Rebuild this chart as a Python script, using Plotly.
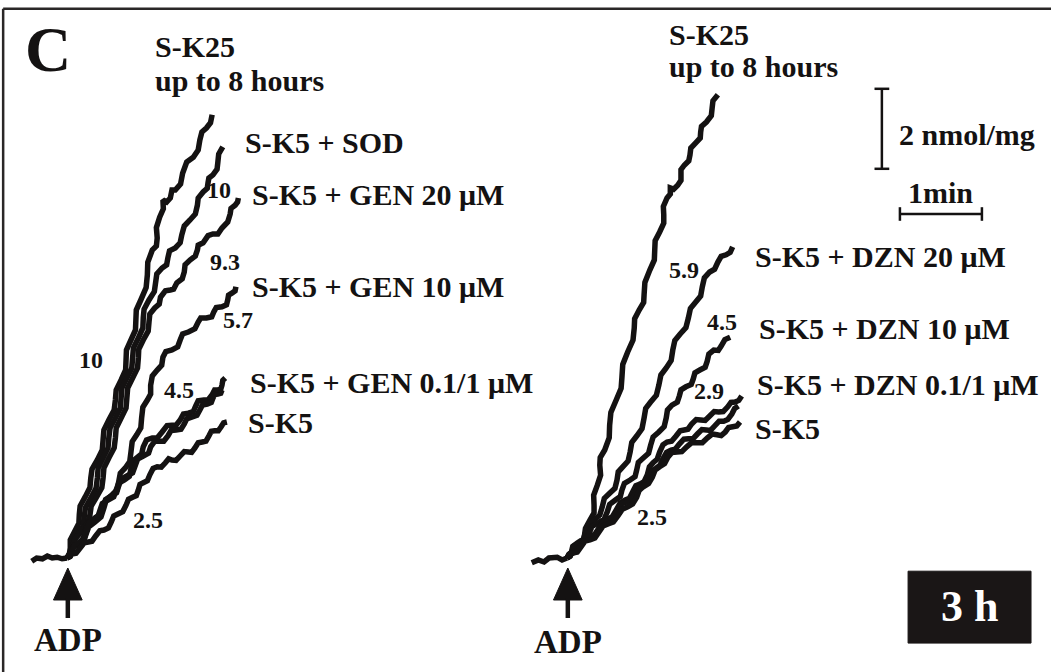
import plotly.graph_objects as go

# ---------------- data (time in min after ADP, uptake in nmol/mg) ----------------
# Left panel (genistein series)
L_base_t = [-0.43, -0.37, -0.30, -0.24, -0.18, -0.12, -0.06, 0]
L_base_v = [-0.08, 0, -0.02, 0.05, 0, 0.02, -0.02, 0]

L_SK25_t = [0, .03, .04, .04, .09, .145, .15, .16, .22, .28, .29, .305, .37, .43, .44, .45, .51, .575, .59, .60,
            .66, .715, .72, .725, .78, .835, .84, .845, .90, .965, .98, .985, 1.04, 1.09, 1.10, 1.09, 1.13, 1.175,
            1.17, 1.215, 1.26, 1.28, 1.32, 1.385, 1.41, 1.46, 1.54, 1.60, 1.62, 1.645, 1.70, 1.75, 1.77]
L_SK25_v = [0, .12, .25, .45, .65, .87, 1.08, 1.3, 1.52, 1.76, 2.0, 2.22, 2.45, 2.7, 2.95, 3.2, 3.45, 3.7, 3.95, 4.2,
            4.45, 4.7, 4.95, 5.2, 5.45, 5.7, 5.95, 6.2, 6.45, 6.76, 7.08, 7.39, 7.7, 7.8, 8.0, 8.26, 8.52, 8.73,
            8.95, 8.9, 9.0, 9.2, 9.2, 9.35, 9.62, 9.9, 10.02, 10.2, 10.45, 10.65, 10.75, 10.88, 11.08]

L_SOD_t = [0, .04, .05, .065, .13, .195, .21, .225, .29, .355, .37, .38, .44, .50, .51, .525, .59, .65, .66, .67,
           .73, .79, .80, .81, .87, .925, .93, .94, 1.0, 1.065, 1.08, 1.095, 1.16, 1.215, 1.23, 1.25, 1.32, 1.38,
           1.40, 1.43, 1.50, 1.565, 1.59, 1.60, 1.66, 1.71, 1.72, 1.73, 1.78, 1.83, 1.84, 1.85, 1.90]
L_SOD_v = [0, .1, .2, .39, .58, .8, 1.02, 1.26, 1.5, 1.75, 2.0, 2.25, 2.5, 2.75, 3.0, 3.25, 3.5, 3.75, 4.0, 4.25,
           4.5, 4.75, 5.0, 5.25, 5.5, 5.75, 6.0, 6.22, 6.45, 6.66, 6.88, 7.1, 7.25, 7.33, 7.5, 7.68, 7.75, 7.88,
           8.08, 8.3, 8.45, 8.6, 8.82, 9.0, 9.15, 9.24, 9.38, 9.5, 9.58, 9.72, 9.9, 10.1, 10.28]

L_GEN20_t = [0, .045, .06, .09, .17, .25, .28, .295, .36, .425, .44, .45, .51, .575, .59, .60, .66, .72, .73, .74,
             .80, .86, .87, .875, .93, .99, 1.0, 1.01, 1.07, 1.125, 1.14, 1.20, 1.26, 1.30, 1.34, 1.405, 1.43, 1.44,
             1.50, 1.565, 1.59, 1.60, 1.66, 1.72, 1.78, 1.84, 1.89, 1.96, 1.99, 2.0, 2.05, 2.08, 2.09]
L_GEN20_v = [0, .12, .25, .45, .65, .87, 1.08, 1.3, 1.52, 1.76, 2.0, 2.25, 2.5, 2.75, 3.0, 3.25, 3.5, 3.75, 4.0, 4.25,
             4.5, 4.75, 5.0, 5.22, 5.45, 5.67, 5.9, 6.1, 6.25, 6.35, 6.52, 6.68, 6.7, 6.72, 6.88, 6.98, 7.15, 7.33,
             7.45, 7.55, 7.7, 7.82, 7.88, 8.06, 8.1, 8.1, 8.25, 8.4, 8.6, 8.74, 8.82, 8.9, 9.0]

L_GEN10_t = [0, .04, .06, .075, .13, .20, .23, .265, .34, .415, .45, .48, .55, .61, .63, .65, .71, .765, .78, .795,
             .85, .90, .91, .925, .98, 1.02, 1.02, 1.04, 1.10, 1.155, 1.17, 1.205, 1.28, 1.35, 1.38, 1.41, 1.48,
             1.56, 1.60, 1.63, 1.70, 1.765, 1.79, 1.82, 1.89, 1.945, 1.96, 1.97, 2.01, 2.05, 2.06]
L_GEN10_v = [0, .05, .15, .28, .32, .41, .58, .78, .9, 1.03, 1.25, 1.46, 1.58, 1.70, 1.9, 2.12, 2.25, 2.41, 2.65, 2.91,
             3.08, 3.25, 3.5, 3.77, 3.95, 4.1, 4.32, 4.55, 4.7, 4.82, 5.02, 5.16, 5.2, 5.28, 5.45, 5.6, 5.65,
             5.73, 5.9, 6.0, 6.0, 6.03, 6.15, 6.26, 6.28, 6.33, 6.45, 6.57, 6.62, 6.68, 6.78]

L_GEN01_t = [0, .035, .05, .07, .12, .185, .21, .235, .30, .37, .40, .43, .50, .57, .60, .63, .70, .76, .78, .795,
             .85, .91, .93, .97, 1.04, 1.10, 1.16, 1.22, 1.28, 1.33, 1.38, 1.42, 1.48, 1.54, 1.57, 1.60, 1.67, 1.72,
             1.77, 1.80, 1.84, 1.875, 1.89, 1.90, 1.93]
L_GEN01_v = [0, .03, .12, .26, .32, .41, .58, .77, .88, .99, 1.18, 1.36, 1.45, 1.53, 1.7, 1.87, 1.95, 2.04, 2.22, 2.41,
             2.5, 2.60, 2.78, 2.95, 3.0, 3.0, 3.15, 3.31, 3.32, 3.32, 3.45, 3.60, 3.62, 3.66, 3.8, 3.93, 3.95, 3.95,
             4.08, 4.2, 4.2, 4.22, 4.32, 4.44, 4.5]

L_GEN1_t = [0, .04, .06, .09, .15, .215, .24, .27, .34, .41, .44, .47, .54, .605, .63, .66, .73, .80, .83, .86,
            .93, .995, 1.02, 1.07, 1.13, 1.18, 1.23, 1.27, 1.33, 1.39, 1.43, 1.46, 1.52, 1.585, 1.62, 1.65, 1.71,
            1.76, 1.78, 1.80, 1.84, 1.875, 1.89]
L_GEN1_v = [0, .05, .15, .32, .4, .51, .7, .89, 1.0, 1.10, 1.28, 1.46, 1.55, 1.63, 1.8, 1.97, 2.05, 2.13, 2.3, 2.47,
            2.55, 2.62, 2.78, 2.92, 2.92, 2.92, 3.05, 3.19, 3.2, 3.22, 3.35, 3.48, 3.52, 3.57, 3.7, 3.82, 3.85,
            3.89, 4.0, 4.09, 4.1, 4.12, 4.2]

L_SK5_t = [0, .03, .06, .11, .16, .21, .26, .305, .35, .40, .45, .505, .54, .57, .62, .68, .72, .75, .80, .845,
           .87, .89, .93, .98, 1.01, 1.05, 1.10, 1.15, 1.20, 1.24, 1.28, 1.33, 1.38, 1.43, 1.48, 1.52, 1.56, 1.60,
           1.65, 1.695, 1.73, 1.76, 1.80, 1.845, 1.88, 1.91, 1.95]
L_SK5_v = [0, .1, .1, .12, .25, .38, .4, .42, .55, .68, .7, .75, .9, 1.05, 1.1, 1.16, 1.32, 1.47, 1.52, 1.56,
           1.7, 1.84, 1.88, 1.93, 2.08, 2.24, 2.28, 2.27, 2.38, 2.48, 2.45, 2.44, 2.55, 2.66, 2.65, 2.64, 2.75, 2.88,
           2.9, 2.92, 3.05, 3.17, 3.18, 3.18, 3.28, 3.38, 3.4]

# Right panel (daidzein series)
R_base_t = [-0.43, -0.35, -0.28, -0.22, -0.12, -0.06, 0]
R_base_v = [-0.12, -0.05, -0.1, 0, 0.02, -0.05, 0]

R_SK25_t = [0, .02, .04, .08, .12, .175, .21, .225, .28, .33, .33, .325, .37, .41, .40, .405, .46, .515, .52, .535,
            .60, .66, .67, .68, .74, .805, .82, .825, .88, .935, .94, .95, 1.01, 1.065, 1.07, 1.075, 1.13, 1.18,
            1.18, 1.175, 1.22, 1.26, 1.26, 1.30, 1.35, 1.39, 1.39, 1.39, 1.43, 1.485, 1.50, 1.51, 1.57, 1.625,
            1.63, 1.64, 1.70, 1.76, 1.77, 1.78, 1.84]
R_SK25_v = [0, .08, .08, .15, .3, .38, .52, .74, .95, 1.13, 1.32, 1.57, 1.82, 2.07, 2.32, 2.51, 2.7, 3.01, 3.32, 3.64,
            3.95, 4.24, 4.52, 4.84, 5.15, 5.45, 5.75, 5.98, 6.2, 6.39, 6.58, 6.89, 7.2, 7.45, 7.7, 7.93, 8.15, 8.37,
            8.58, 8.79, 9.0, 9.1, 9.25, 9.22, 9.32, 9.44, 9.58, 9.71, 9.82, 9.93, 10.08, 10.25, 10.38, 10.5,
            10.65, 10.79, 10.9, 11.06, 11.25, 11.43, 11.58]

R_DZN20_t = [0, .035, .05, .07, .13, .20, .23, .26, .33, .40, .43, .455, .52, .585, .61, .625, .68, .745, .77, .79,
             .85, .915, .94, .96, 1.02, 1.09, 1.12, 1.145, 1.21, 1.27, 1.29, 1.315, 1.38, 1.45, 1.48, 1.505, 1.57,
             1.63, 1.65, 1.675, 1.74, 1.80, 1.84, 1.88, 1.94, 1.99, 2.02]
R_DZN20_v = [0, .04, .12, .29, .38, .475, .65, .84, .95, 1.075, 1.28, 1.49, 1.62, 1.745, 1.95, 2.155, 2.28, 2.425,
             2.65, 2.89, 3.05, 3.235, 3.5, 3.74, 3.9, 4.07, 4.32, 4.575, 4.75, 4.935, 5.2, 5.44, 5.6, 5.76, 6.0,
             6.24, 6.4, 6.55, 6.78, 7.005, 7.15, 7.22, 7.4, 7.54, 7.58, 7.64, 7.78]

R_DZN10_t = [0, .04, .06, .09, .16, .235, .27, .305, .38, .455, .49, .52, .59, .65, .67, .70, .77, .83, .85, .87,
             .93, .995, 1.02, 1.05, 1.12, 1.185, 1.21, 1.225, 1.28, 1.345, 1.37, 1.39, 1.45, 1.515, 1.54, 1.56,
             1.62, 1.685, 1.71, 1.73, 1.79, 1.845, 1.88, 1.925, 1.99]
R_DZN10_v = [0, .05, .15, .305, .38, .46, .62, .79, .88, .975, 1.15, 1.34, 1.45, 1.535, 1.7, 1.865, 1.95, 2.035,
             2.2, 2.39, 2.5, 2.62, 2.82, 3.025, 3.15, 3.285, 3.5, 3.70, 3.82, 3.895, 4.05, 4.205, 4.28, 4.34, 4.48,
             4.63, 4.7, 4.77, 4.92, 5.10, 5.2, 5.19, 5.3, 5.46, 5.52]

R_DZN01_t = [0, .03, .06, .115, .16, .21, .27, .33, .38, .43, .49, .55, .60, .65, .71, .76, .80, .84, .89, .94,
             .98, 1.005, 1.05, 1.10, 1.13, 1.17, 1.22, 1.275, 1.33, 1.38, 1.43, 1.475, 1.52, 1.575, 1.63, 1.685,
             1.74, 1.795, 1.85, 1.905, 1.96, 2.0, 2.05, 2.095, 2.13]
R_DZN01_v = [0, .1, .12, .16, .3, .45, .5, .56, .72, .89, .95, 1.02, 1.2, 1.38, 1.45, 1.49, 1.65, 1.81, 1.85, 1.91,
             2.08, 2.28, 2.38, 2.47, 2.65, 2.83, 2.9, 2.92, 3.05, 3.18, 3.2, 3.22, 3.35, 3.46, 3.45, 3.44, 3.55,
             3.66, 3.65, 3.66, 3.78, 3.89, 3.9, 3.94, 4.05]

R_DZN1_t = [0, .035, .07, .125, .18, .23, .29, .35, .40, .45, .51, .57, .62, .67, .73, .785, .83, .865, .91, .96,
            1.0, 1.04, 1.09, 1.135, 1.17, 1.215, 1.27, 1.32, 1.37, 1.425, 1.48, 1.535, 1.59, 1.645, 1.70, 1.75,
            1.80, 1.855, 1.91, 1.96, 2.01, 2.045, 2.09]
R_DZN1_v = [0, .11, .15, .20, .35, .50, .55, .60, .75, .92, .98, 1.04, 1.2, 1.36, 1.4, 1.45, 1.6, 1.75, 1.8, 1.86,
            2.02, 2.19, 2.25, 2.32, 2.48, 2.64, 2.7, 2.72, 2.85, 2.97, 2.98, 2.98, 3.1, 3.21, 3.2, 3.19, 3.3, 3.42,
            3.42, 3.46, 3.6, 3.74, 3.8]

R_SK5_t = [0, .035, .07, .125, .17, .22, .28, .34, .39, .44, .50, .565, .62, .675, .74, .80, .85, .88, .93, .995,
           1.04, 1.075, 1.13, 1.19, 1.23, 1.28, 1.34, 1.40, 1.46, 1.525, 1.59, 1.65, 1.71, 1.77, 1.83, 1.88, 1.93,
           1.97, 2.02, 2.07, 2.11]
R_SK5_v = [0, .1, .12, .15, .28, .42, .45, .50, .65, .80, .85, .90, 1.05, 1.22, 1.28, 1.35, 1.52, 1.69, 1.78, 1.86,
           2.02, 2.20, 2.28, 2.36, 2.52, 2.64, 2.65, 2.66, 2.78, 2.89, 2.88, 2.88, 3.0, 3.10, 3.08, 3.06, 3.15,
           3.26, 3.28, 3.30, 3.4]

# Scale bars
SCALE_T0, SCALE_MIN = 4.06, 1.0        # 1 min
SCALE_V0, SCALE_NMOL = 9.73, 2.0       # 2 nmol/mg

# ---------------- figure ----------------
INK = "#141212"
FONT = "Liberation Serif, Times New Roman, serif"
LW = 5.5
fig = go.Figure()

left = [(L_base_t, L_base_v), (L_SK25_t, L_SK25_v), (L_SOD_t, L_SOD_v), (L_GEN20_t, L_GEN20_v),
        (L_GEN10_t, L_GEN10_v), (L_GEN01_t, L_GEN01_v), (L_GEN1_t, L_GEN1_v), (L_SK5_t, L_SK5_v)]
right = [(R_base_t, R_base_v), (R_SK25_t, R_SK25_v), (R_DZN20_t, R_DZN20_v), (R_DZN10_t, R_DZN10_v),
         (R_DZN01_t, R_DZN01_v), (R_DZN1_t, R_DZN1_v), (R_SK5_t, R_SK5_v)]

for t, v in left:
    fig.add_trace(go.Scatter(x=t, y=v, mode="lines", xaxis="x", yaxis="y",
                             line=dict(color=INK, width=LW), hoverinfo="skip", showlegend=False))
for t, v in right:
    fig.add_trace(go.Scatter(x=t, y=v, mode="lines", xaxis="x2", yaxis="y",
                             line=dict(color=INK, width=LW), hoverinfo="skip", showlegend=False))

annos = []
def txt(s, xref, x, y, size, xanchor="left", color=INK, yref="y"):
    annos.append(dict(text="<b>%s</b>" % s, xref=xref, yref=yref, x=x, y=y, xanchor=xanchor,
                      yanchor="middle", showarrow=False, font=dict(family=FONT, size=size, color=color)))

LBL = 30
NUM = 24
# left panel
txt("S-K25", "x", 1.05, 12.78, LBL)
txt("up to 8 hours", "x", 1.05, 11.95, LBL)
txt("S-K5 + SOD", "x", 2.15, 10.38, LBL)
txt("S-K5 + GEN 20 μM", "x", 2.23, 9.08, LBL)
txt("S-K5 + GEN 10 μM", "x", 2.23, 6.80, LBL)
txt("S-K5 + GEN 0.1/1 μM", "x", 2.21, 4.38, LBL)
txt("S-K5", "x", 2.18, 3.40, LBL)
txt("10", "x", 1.85, 9.20, NUM, "center")
txt("9.3", "x", 1.93, 7.40, NUM, "center")
txt("5.7", "x", 2.09, 5.95, NUM, "center")
txt("10", "x", 0.29, 4.95, NUM, "center")
txt("4.5", "x", 1.37, 4.20, NUM, "center")
txt("2.5", "x", 0.99, 0.95, NUM, "center")
txt("ADP", "x", 0.01, -2.05, 33, "center")
# right panel
txt("S-K25", "x2", 1.22, 13.08, LBL)
txt("up to 8 hours", "x2", 1.22, 12.28, LBL)
txt("S-K5 + DZN 20 μM", "x2", 2.27, 7.53, LBL)
txt("S-K5 + DZN 10 μM", "x2", 2.32, 5.73, LBL)
txt("S-K5 + DZN 0.1/1 μM", "x2", 2.29, 4.33, LBL)
txt("S-K5", "x2", 2.27, 3.25, LBL)
txt("5.9", "x2", 1.43, 7.20, NUM, "center")
txt("4.5", "x2", 1.89, 5.90, NUM, "center")
txt("2.9", "x2", 1.73, 4.18, NUM, "center")
txt("2.5", "x2", 1.04, 1.03, NUM, "center")
txt("ADP", "x2", 0.01, -2.10, 33, "center")
# scale labels
txt("2 nmol/mg", "x2", SCALE_T0 - 0.04, SCALE_V0 + 0.85, LBL)
txt("1min", "x2", SCALE_T0 + SCALE_MIN / 2, SCALE_V0 - 0.6, LBL, "center")
# panel letter and time box text
txt("C", "paper", 0.022, 0.926, 64, "left", yref="paper")
txt("3 h", "paper", 0.9225, 0.097, 44, "center", color="white", yref="paper")

shapes = []
# ADP arrows
for xr in ("x", "x2"):
    shapes.append(dict(type="path", xref=xr, yref="y", path="M 0.01,-0.25 L -0.165,-1.05 L 0.185,-1.05 Z",
                       fillcolor=INK, line=dict(color=INK, width=1)))
    shapes.append(dict(type="line", xref=xr, yref="y", x0=0.01, x1=0.01, y0=-1.0, y1=-1.5,
                       line=dict(color=INK, width=4.5)))
# scale bars (on right-panel axis)
vx = SCALE_T0 - 0.22
shapes.append(dict(type="line", xref="x2", yref="y", x0=vx, x1=vx, y0=SCALE_V0, y1=SCALE_V0 + SCALE_NMOL,
                   line=dict(color=INK, width=2.5)))
for yy in (SCALE_V0, SCALE_V0 + SCALE_NMOL):
    shapes.append(dict(type="line", xref="x2", yref="y", x0=vx - 0.09, x1=vx + 0.09, y0=yy, y1=yy,
                       line=dict(color=INK, width=2.5)))
hy = SCALE_V0 - 1.13
shapes.append(dict(type="line", xref="x2", yref="y", x0=SCALE_T0, x1=SCALE_T0 + SCALE_MIN, y0=hy, y1=hy,
                   line=dict(color=INK, width=2.5)))
for xx in (SCALE_T0, SCALE_T0 + SCALE_MIN):
    shapes.append(dict(type="line", xref="x2", yref="y", x0=xx, x1=xx, y0=hy - 0.17, y1=hy + 0.17,
                       line=dict(color=INK, width=2.5)))
# black time box
shapes.append(dict(type="rect", xref="paper", yref="paper", x0=0.864, x1=0.981, y0=0.043, y1=0.150,
                   fillcolor="#1a1616", line=dict(color="#1a1616", width=1)))
# frame (top and left edges)
shapes.append(dict(type="line", xref="paper", yref="paper", x0=0.003, x1=1.0, y0=0.987, y1=0.987,
                   line=dict(color="#2a2727", width=2.5)))
shapes.append(dict(type="line", xref="paper", yref="paper", x0=0.003, x1=0.003, y0=0.0, y1=0.987,
                   line=dict(color="#2a2727", width=2.5)))

fig.update_layout(
    width=1051, height=672, margin=dict(l=0, r=0, t=0, b=0),
    paper_bgcolor="white", plot_bgcolor="white", showlegend=False,
    xaxis=dict(range=[-67 / 82, 984 / 82], visible=False, fixedrange=True),
    xaxis2=dict(range=[-567 / 82, 484 / 82], visible=False, overlaying="x", fixedrange=True),
    yaxis=dict(range=[-114 / 40, 558 / 40], visible=False, fixedrange=True),
    annotations=annos, shapes=shapes,
)

fig.write_html("out.html", post_script="document.body.style.margin='0';document.body.style.overflow='hidden';",
               config={"displayModeBar": False})
